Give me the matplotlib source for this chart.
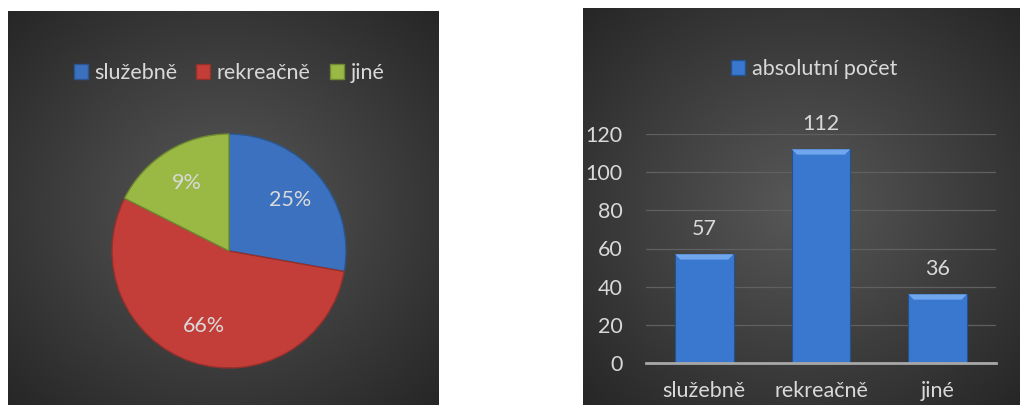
import numpy as np
import matplotlib
matplotlib.use('Agg')
import matplotlib.pyplot as plt
from matplotlib.patches import Patch, Polygon

plt.rcParams['font.family'] = ['Lato', 'DejaVu Sans']

# data
categories = ['služebně', 'rekreačně', 'jiné']
counts = [57, 112, 36]
pie_labels = ['25%', '66%', '9%']
bar_legend = 'absolutní počet'
y_ticks = [0, 20, 40, 60, 80, 100, 120]

pie_colors = ['#3b71be', '#c33e39', '#99b944']
pie_edges = ['#2b568f', '#93302c', '#6f8a30']
bar_color = '#3a78cf'
text_color = '#d9d9d9'

W, H = 1027, 405
fig = plt.figure(figsize=(W / 100, H / 100), dpi=100, facecolor='white')


def px_axes(x0, y0, x1, y1, **kw):
    """Axes from pixel box (top-left origin)."""
    return fig.add_axes([x0 / W, (H - y1) / H, (x1 - x0) / W, (y1 - y0) / H], **kw)


def panel_background(ax):
    gx, gy = np.meshgrid(np.linspace(-1, 1, 300), np.linspace(-1, 1, 300))
    d = np.clip(np.sqrt(gx ** 2 + gy ** 2) / np.sqrt(2), 0, 1)
    val = 0.345 * (1 - d) + 0.15 * d
    img = np.dstack([val, val, val])
    ax.imshow(img, extent=(0, 1, 0, 1), aspect='auto', interpolation='bilinear')
    ax.set_xlim(0, 1)
    ax.set_ylim(0, 1)
    ax.axis('off')


# backgrounds
bg1 = px_axes(8, 11, 439, 405, zorder=0)
panel_background(bg1)
bg2 = px_axes(583, 8, 1020, 405, zorder=0)
panel_background(bg2)

# pie
r = 117
cx, cy = 229, 251
ax1 = px_axes(cx - r, cy - r, cx + r, cy + r, zorder=2)
wedges, texts = ax1.pie(counts, labels=pie_labels, colors=pie_colors,
                        startangle=90, counterclock=False, labeldistance=0.68,
                        wedgeprops=dict(linewidth=1.0),
                        textprops=dict(color=text_color, fontsize=15.5,
                                       ha='center', va='center'))
for w, ec in zip(wedges, pie_edges):
    w.set_edgecolor(ec)
    w.set_clip_on(False)
for t in texts:
    t.set_horizontalalignment('center')
ax1.set_xlim(-1, 1)
ax1.set_ylim(-1, 1)
ax1.set_facecolor('none')

handles = [Patch(facecolor=c, edgecolor=e) for c, e in zip(pie_colors, pie_edges)]
fig.legend(handles, categories, loc='center', bbox_to_anchor=(229 / W, 1 - 73 / H),
           ncol=3, frameon=False, fontsize=15.5, labelcolor=text_color,
           handlelength=0.65, handleheight=0.65, handletextpad=0.3,
           columnspacing=0.9)

# bar chart
ax2 = px_axes(646, 134, 996, 363, zorder=2)
ax2.set_facecolor('none')
x = np.arange(len(categories))
bars = ax2.bar(x, counts, width=0.5, color=bar_color, edgecolor='#24528f',
               linewidth=0.8, zorder=3, label=bar_legend)
# bevel highlight on top of each bar
bev_x, bev_y = 0.045, 2.8
for b in bars:
    x0, x1, top = b.get_x(), b.get_x() + b.get_width(), b.get_height()
    ax2.add_patch(Polygon([(x0, top), (x1, top), (x1 - bev_x, top - bev_y),
                           (x0 + bev_x, top - bev_y)], closed=True,
                          facecolor='#6fa6ee', edgecolor='none', zorder=4))
for b, v in zip(bars, counts):
    ax2.annotate(str(v), (b.get_x() + b.get_width() / 2, v), xytext=(0, 25),
                 textcoords='offset pixels', ha='center', va='center',
                 color=text_color, fontsize=15.5)
ax2.set_xlim(-0.5, len(categories) - 0.5)
ax2.set_ylim(0, 120)
ax2.set_yticks(y_ticks)
ax2.set_xticks(x)
ax2.set_xticklabels(categories)
ax2.tick_params(length=0, colors=text_color, labelsize=15.5)
ax2.tick_params(axis='y', pad=17)
ax2.tick_params(axis='x', pad=13)
ax2.grid(axis='y', color='#606060', linewidth=0.9, zorder=1)
for s in ['top', 'right', 'left']:
    ax2.spines[s].set_visible(False)
ax2.spines['bottom'].set_color('#a8a8a8')
ax2.spines['bottom'].set_linewidth(2)
ax2.spines['bottom'].set_zorder(5)
ax2.set_axisbelow(True)

fig.legend([Patch(facecolor=bar_color, edgecolor='#24528f')], [bar_legend],
           loc='center', bbox_to_anchor=(814 / W, 1 - 69 / H), frameon=False,
           fontsize=15.5, labelcolor=text_color, handlelength=0.65,
           handleheight=0.65, handletextpad=0.3)

fig.savefig('out.png', dpi=100, facecolor='white')
